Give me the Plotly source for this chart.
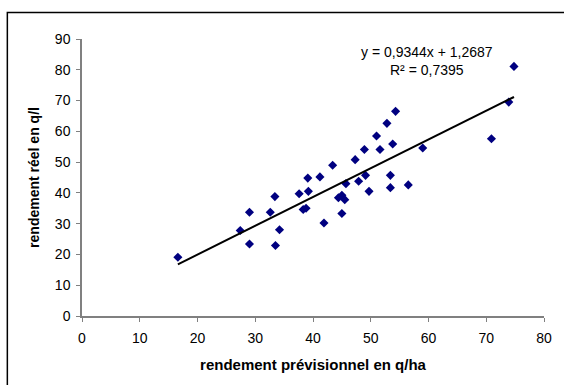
import plotly.graph_objects as go

# Rendement prévisionnel (q/ha) vs rendement réel (q/l)
previsionnel = [16.6, 27.4, 29.0, 29.0, 32.6, 33.4, 33.5, 34.2, 37.6, 38.3,
                38.8, 39.1, 39.2, 41.2, 41.9, 43.4, 44.4, 45.0, 45.0, 45.5,
                45.7, 47.3, 47.9, 48.9, 49.1, 49.7, 51.0, 51.6, 52.8, 53.4,
                53.4, 53.8, 54.3, 56.5, 59.0, 70.9, 73.9, 74.8]
reel = [19.1, 27.8, 33.7, 23.4, 33.7, 38.8, 22.9, 28.0, 39.7, 34.6,
        35.0, 44.8, 40.5, 45.2, 30.2, 49.0, 38.4, 39.2, 33.3, 37.8,
        43.0, 50.8, 43.8, 54.1, 45.7, 40.5, 58.5, 54.1, 62.6, 45.7,
        41.7, 55.9, 66.5, 42.6, 54.6, 57.6, 69.5, 81.1]

# Linear trend y = a x + b, R²
slope = 0.9344
intercept = 1.2687
r2 = 0.7395

x_ticks = [0, 10, 20, 30, 40, 50, 60, 70, 80]
y_ticks = [0, 10, 20, 30, 40, 50, 60, 70, 80, 90]

FONT = "Liberation Sans, Arial, sans-serif"

x_line = [min(previsionnel), max(previsionnel)]
y_line = [slope * v + intercept for v in x_line]

fig = go.Figure()
fig.add_trace(go.Scatter(
    x=previsionnel, y=reel, mode="markers",
    marker=dict(symbol="diamond", size=7, color="#000080", line=dict(width=0)),
    showlegend=False,
))
fig.add_trace(go.Scatter(
    x=x_line, y=y_line, mode="lines",
    line=dict(color="black", width=2),
    showlegend=False,
))

fmt = lambda v, d: f"{v:.{d}f}".replace(".", ",")
fig.add_annotation(
    xref="paper", yref="paper", x=0.7457, y=0.921,
    text=f"y = {fmt(slope, 4)}x + {fmt(intercept, 4)}<br>R² = {fmt(r2, 4)}",
    showarrow=False, align="center", xanchor="center", yanchor="middle",
    font=dict(family=FONT, size=14, color="black"),
)

# Outer frame of the chart area
fig.add_shape(
    type="rect", xref="paper", yref="paper",
    x0=-0.1616, x1=1.2, y0=-0.4, y1=1.0957,
    line=dict(color="black", width=1.5), fillcolor="rgba(0,0,0,0)",
    layer="below",
)

axis_common = dict(
    showgrid=False, zeroline=False, showline=True,
    linecolor="#808080", linewidth=1.5,
    ticks="outside", ticklen=4, tickwidth=1, tickcolor="#808080",
    tickfont=dict(family=FONT, size=14, color="black"),
)

fig.update_xaxes(
    range=[0, 80], tickvals=x_ticks, ticktext=[str(v) for v in x_ticks],
    ticklabelstandoff=4,
    title_text="<b>rendement prévisionnel en q/ha</b>", title_standoff=15,
    title_font=dict(family=FONT, size=15, color="black"),
    **axis_common,
)
fig.update_yaxes(
    range=[0, 90], tickvals=y_ticks, ticktext=[str(v) for v in y_ticks],
    ticklabelstandoff=3,
    title_text="<b>rendement réel en q/l</b>", title_standoff=12,
    title_font=dict(family=FONT, size=14, color="black"),
    **axis_common,
)

fig.update_layout(
    width=564, height=385, autosize=False,
    margin=dict(l=82, r=18, t=39, b=69),
    paper_bgcolor="white", plot_bgcolor="white",
    font=dict(family=FONT),
)

fig.write_html("out.html")
